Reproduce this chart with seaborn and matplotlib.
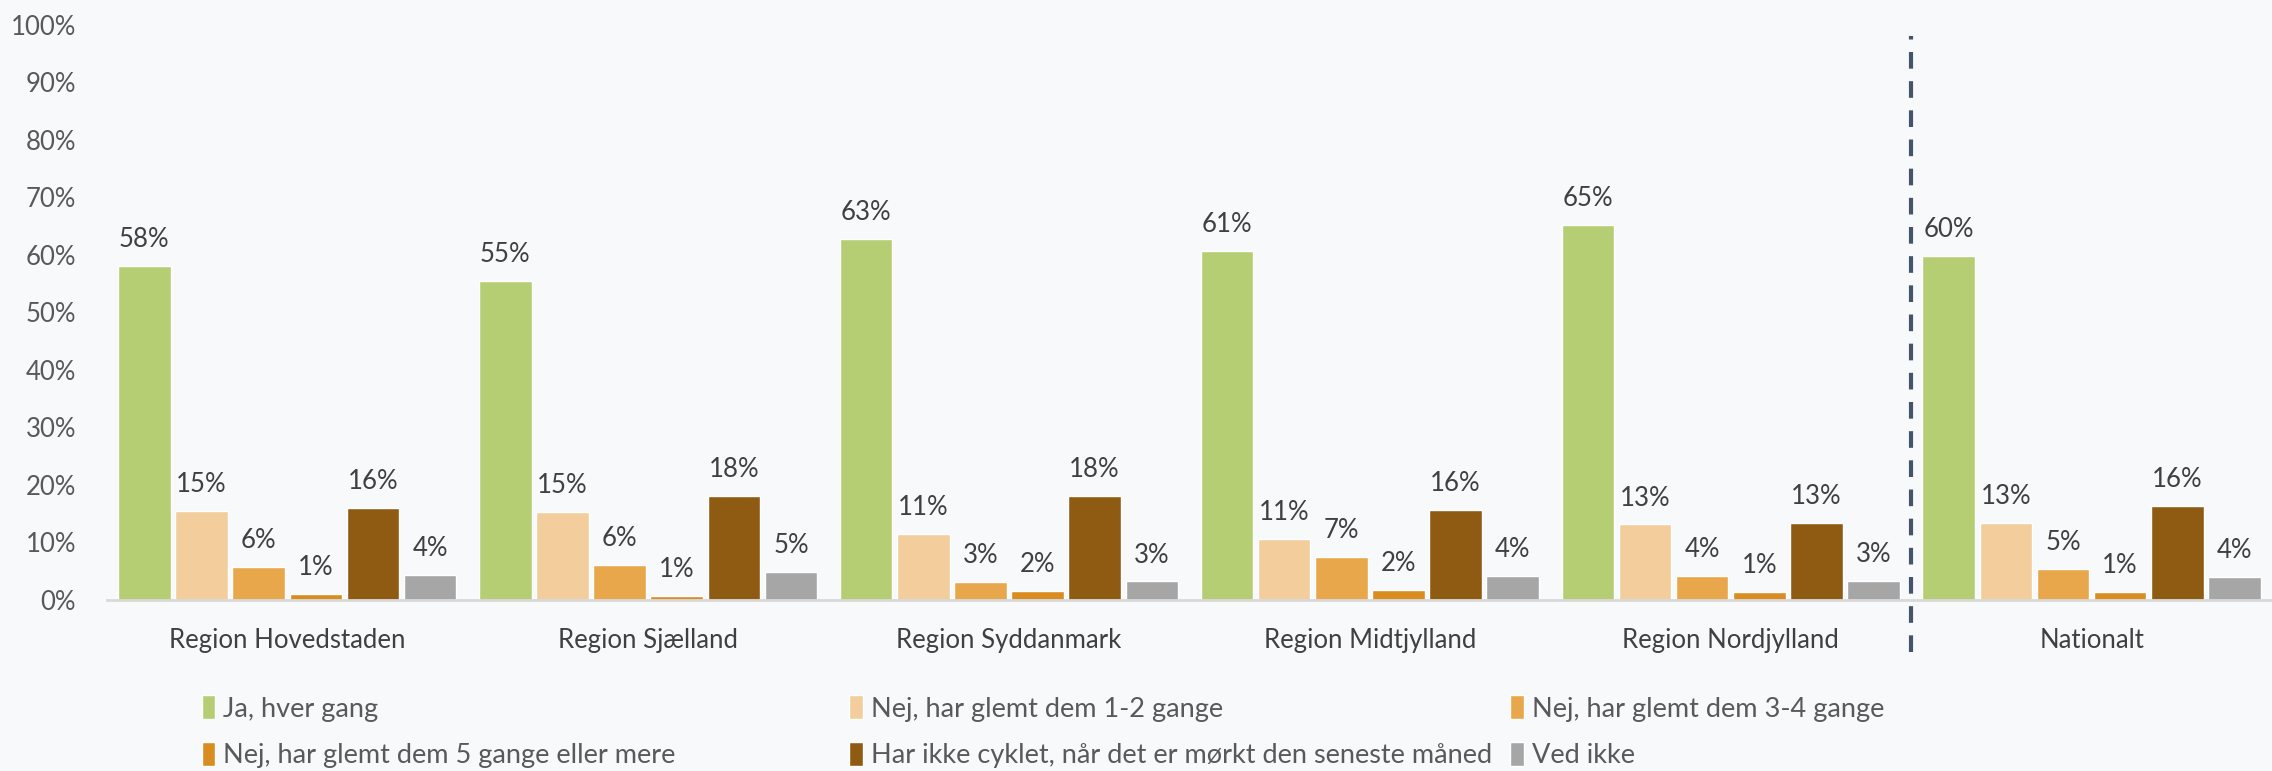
import seaborn as sns
import pandas as pd
import matplotlib.pyplot as plt
from matplotlib.patches import Patch

# Data (percent)
regions = ["Region Hovedstaden", "Region Sjælland", "Region Syddanmark",
           "Region Midtjylland", "Region Nordjylland", "Nationalt"]
answers = ["Ja, hver gang",
           "Nej, har glemt dem 1-2 gange",
           "Nej, har glemt dem 3-4 gange",
           "Nej, har glemt dem 5 gange eller mere",
           "Har ikke cyklet, når det er mørkt den seneste måned",
           "Ved ikke"]
ja_hver_gang = [58.0, 55.4, 62.8, 60.7, 65.2, 59.8]
glemt_1_2 = [15.4, 15.3, 11.4, 10.6, 13.1, 13.3]
glemt_3_4 = [5.7, 6.0, 3.1, 7.4, 4.1, 5.3]
glemt_5_plus = [1.0, 0.7, 1.6, 1.7, 1.3, 1.3]
ikke_cyklet = [16.0, 18.0, 18.0, 15.6, 13.4, 16.3]
ved_ikke = [4.3, 4.8, 3.2, 4.2, 3.3, 4.0]
colors = ["#B5CE73", "#F3CE9C", "#E8A74B", "#D98C20", "#8F5B13", "#A6A6A6"]

series = [ja_hver_gang, glemt_1_2, glemt_3_4, glemt_5_plus, ikke_cyklet, ved_ikke]
rows = []
for ans, vals in zip(answers, series):
    for reg, v in zip(regions, vals):
        rows.append({"region": reg, "answer": ans, "value": v})
df = pd.DataFrame(rows)

bg = "#F8F9FB"
text_col = "#595959"
sns.set_style("white")
plt.rcParams["font.family"] = ["Lato", "DejaVu Sans"]

fig = plt.figure(figsize=(22.72, 7.71), dpi=100, facecolor=bg)
ax = fig.add_axes([0.047, 0.222, 0.953, 0.746])
ax.set_facecolor(bg)

sns.barplot(data=df, x="region", y="value", hue="answer", order=regions,
            hue_order=answers, palette=colors, saturation=1, width=0.95, gap=0.08,
            edgecolor="white", linewidth=1, legend=False, ax=ax)

for cont, vals in zip(ax.containers, series):
    ax.bar_label(cont, labels=[f"{round(v)}%" for v in vals], padding=10,
                 fontsize=18.5, color="#404040")

ax.set_ylim(0, 100)
ax.set_xlim(-0.5, 5.5)
ax.set_yticks(range(0, 101, 10))
ax.set_yticklabels([f"{t}%" for t in range(0, 101, 10)])
ax.tick_params(axis="y", length=0, pad=22, labelsize=18.5, labelcolor=text_col)
ax.tick_params(axis="x", length=0, pad=20, labelsize=18.5, labelcolor="#404040")
ax.set_xlabel("")
ax.set_ylabel("")
for s in ["top", "right", "left"]:
    ax.spines[s].set_visible(False)
ax.spines["bottom"].set_color("#D9D9D9")
ax.spines["bottom"].set_linewidth(2)

# dashed separator before the national figure
ax.axvline(4.5, ymin=-0.09, ymax=0.98, color="#44546A", linestyle=(0, (4, 3)),
           linewidth=3, clip_on=False)

# legend laid out in three columns like the original
legend_cols = [[0, 3], [1, 4], [2, 5]]
col_x = [0.078, 0.363, 0.654]
for xpos, idx in zip(col_x, legend_cols):
    handles = [Patch(facecolor=colors[i], label=answers[i]) for i in idx]
    fig.legend(handles=handles, loc="upper left", bbox_to_anchor=(xpos, 0.13),
               frameon=False, fontsize=19.5, handlelength=0.5, handleheight=1.0,
               handletextpad=0.3, labelspacing=0.75, labelcolor=text_col)

fig.savefig("out.png", dpi=100, facecolor=bg)
